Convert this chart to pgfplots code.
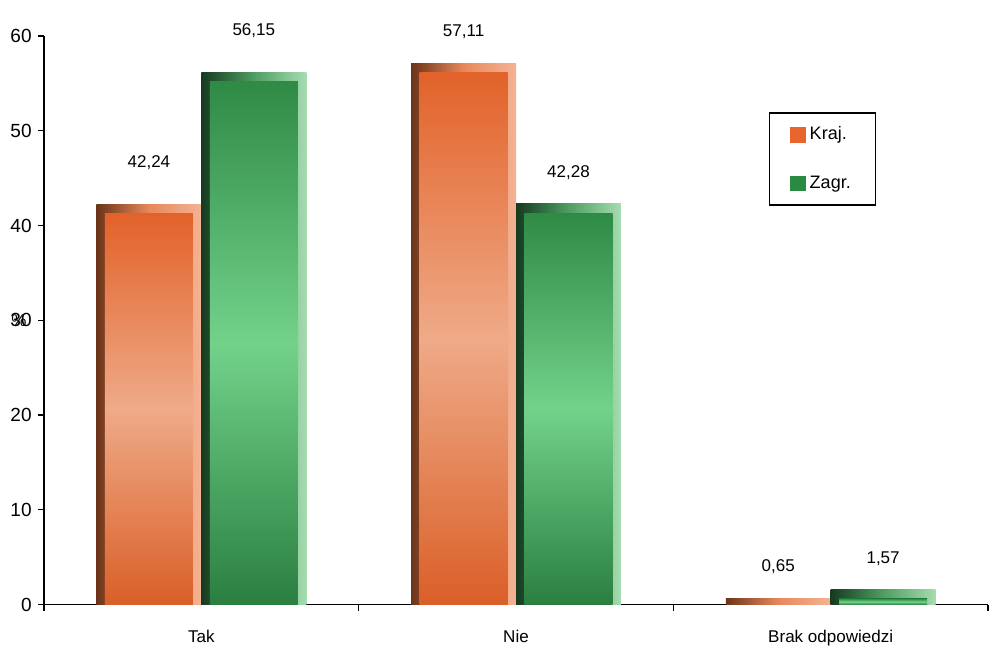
\documentclass[border=0pt]{standalone}
\usepackage{pgfplots}
\pgfplotsset{compat=1.18}
\usepackage{fontspec}
\setmainfont{Liberation Sans}
\definecolor{orTop}{HTML}{E2622A}
\definecolor{orMid}{HTML}{EFAA88}
\definecolor{orBot}{HTML}{DA5F28}
\definecolor{orL}{HTML}{6B3419}
\definecolor{orR}{HTML}{F3B394}
\definecolor{orM}{HTML}{E8885A}
\definecolor{grTop}{HTML}{2F8A46}
\definecolor{grMid}{HTML}{72D28A}
\definecolor{grBot}{HTML}{2A7F40}
\definecolor{grL}{HTML}{163A20}
\definecolor{grR}{HTML}{A6DCB0}
\definecolor{grM}{HTML}{4E9E62}
\definecolor{legOr}{HTML}{E8652E}
\definecolor{legGr}{HTML}{2A8A44}
\pgfplotsset{
  orOuter/.style={forget plot, bar shift=-0.1667, bar width=0.3333, draw=none,
    left color=orL, right color=orR, middle color=orM},
  grOuter/.style={forget plot, bar shift=0.1667, bar width=0.3333, draw=none,
    left color=grL, right color=grR, middle color=grM},
  orInner/.style={forget plot, bar shift=-0.1667, bar width=0.28, draw=none,
    top color=orTop, bottom color=orBot, middle color=orMid},
  grInner/.style={forget plot, bar shift=0.1667, bar width=0.28, draw=none,
    top color=grTop, bottom color=grBot, middle color=grMid},
  orLab/.style={forget plot, bar shift=-0.1667, bar width=0.3333, draw=none, fill=none, nodes near coords},
  grLab/.style={forget plot, bar shift=0.1667, bar width=0.3333, draw=none, fill=none, nodes near coords},
}
\begin{document}
\fontsize{9}{11}\selectfont
\begin{tikzpicture}
\useasboundingbox (-22pt,-33pt) rectangle (474.5pt,302pt);
\begin{axis}[
  font=\fontsize{8.5}{10}\selectfont,
  scale only axis, width=471.5pt, height=284pt,
  xmin=-0.5, xmax=2.5, ymin=0, ymax=60,
  axis lines*=left,
  axis line style={line width=0.7pt, black},
  tick align=outside,
  every tick/.style={black, line width=0.6pt},
  major tick length=3pt, minor tick length=3pt,
  ytick={0,10,...,60},
  yticklabel style={font=\fontsize{9.5}{11}\selectfont},
  xtick={0,1,2}, xticklabels={Tak,Nie,Brak odpowiedzi},
  xticklabel style={yshift=-6.5pt},
  major x tick style={draw=none},
  minor xtick={-0.5,0.5,1.5,2.5},
  /pgf/number format/assume math mode=true,
  /pgf/number format/use comma,
  ylabel={\%},
  ylabel style={rotate=-90, at={(axis description cs:0,0.5)}, anchor=center, xshift=-12.5pt},
  ybar, bar width=0.3333,
  every node near coord/.append style={black,
     /pgf/number format/fixed, /pgf/number format/fixed zerofill, /pgf/number format/precision=2},
  legend style={at={(0.768,0.866)}, anchor=north west, draw=black, line width=0.7pt,
     inner xsep=10.3pt, inner ysep=5pt, row sep=12.5pt, font=\fontsize{9}{11}\selectfont},
  legend cell align=left,
]
% outer (bevel) bars, one per bar so that each is shaded on its own
\addplot[orOuter] coordinates {(0,42.24)};
\addplot[orOuter] coordinates {(1,57.11)};
\addplot[orOuter] coordinates {(2,0.65)};
\addplot[grOuter] coordinates {(0,56.15)};
\addplot[grOuter] coordinates {(1,42.28)};
\addplot[grOuter] coordinates {(2,1.57)};
% inner faces
\addplot[orInner] coordinates {(0,41.24)};
\addplot[orInner] coordinates {(1,56.11)};
\addplot[grInner] coordinates {(0,55.15)};
\addplot[grInner] coordinates {(1,41.28)};
\addplot[grInner] coordinates {(2,0.62)};
% value labels
\addplot[orLab, every node near coord/.append style={yshift=14pt}] coordinates {(0,42.24)};
\addplot[grLab, every node near coord/.append style={yshift=14pt}] coordinates {(0,56.15)};
\addplot[orLab, every node near coord/.append style={yshift=9pt}] coordinates {(1,57.11) (2,0.65)};
\addplot[grLab, every node near coord/.append style={yshift=9pt}] coordinates {(1,42.28) (2,1.57)};
\addlegendimage{legend image code/.code={\fill[legOr] (0pt,-3.5pt) rectangle (7pt,3.5pt);}}
\addlegendentry{Kraj.}
\addlegendimage{legend image code/.code={\fill[legGr] (0pt,-3.5pt) rectangle (7pt,3.5pt);}}
\addlegendentry{Zagr.}
\end{axis}
\end{tikzpicture}
\end{document}
